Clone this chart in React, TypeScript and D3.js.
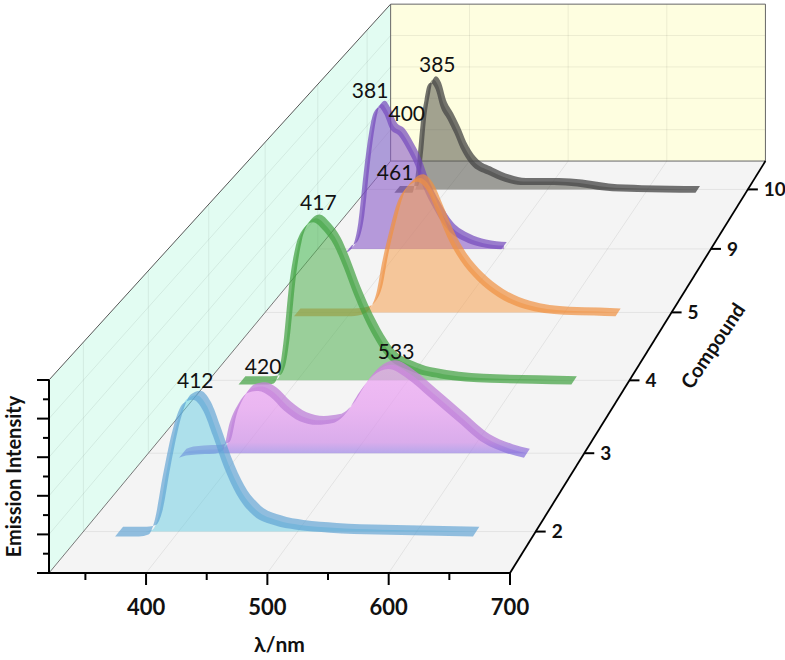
import React from "react";
import * as d3 from "d3";

// compounds along the depth axis, front to back
const compounds = ["2", "3", "4", "5", "9", "10"];

// emission spectra (wavelength in nm, normalised intensity)
const nm2 = [350, 370, 378, 383, 390, 399, 407, 415, 424, 432, 441, 452, 466, 483, 502, 530, 570, 610, 650];
const int2 = [0, 0, 0.01, 0.08, 0.32, 0.58, 0.7, 0.72, 0.66, 0.53, 0.37, 0.22, 0.11, 0.06, 0.035, 0.02, 0.01, 0.005, 0];

const nm3 = [350, 356, 365, 380, 388, 394, 402, 410, 419, 429, 441, 455, 470, 484, 496, 507, 519, 532, 548, 568, 592, 615, 635, 650];
const int3 = [0, 0.012, 0.018, 0.022, 0.04, 0.19, 0.3, 0.355, 0.365, 0.335, 0.26, 0.2, 0.18, 0.19, 0.25, 0.36, 0.45, 0.485, 0.435, 0.33, 0.2, 0.08, 0.025, 0];

const nm4 = [350, 372, 381, 386, 391, 395, 401, 407, 417, 427, 436, 445, 454, 463, 472, 484, 502, 532, 577, 615, 650];
const int4 = [0, 0, 0.005, 0.06, 0.27, 0.53, 0.77, 0.87, 0.92, 0.87, 0.79, 0.66, 0.51, 0.38, 0.27, 0.155, 0.085, 0.035, 0.01, 0.005, 0];

const nm5 = [350, 400, 413, 420, 427, 432, 439, 446, 456, 465, 474, 484, 493, 505, 521, 540, 565, 602, 630, 650];
const int5 = [0, 0, 0.01, 0.04, 0.14, 0.31, 0.5, 0.66, 0.76, 0.79, 0.74, 0.6, 0.465, 0.33, 0.21, 0.115, 0.045, 0.01, 0.005, 0];

const nm9 = [350, 355, 362, 367, 372, 377, 382, 387, 393, 401, 409, 417, 425, 435, 448, 464, 480, 500];
const int9 = [0, 0.02, 0.18, 0.47, 0.71, 0.85, 0.88, 0.84, 0.75, 0.71, 0.63, 0.53, 0.39, 0.265, 0.14, 0.07, 0.035, 0.02];

const nm10 = [350, 368, 373, 376, 380, 383, 386, 391, 396, 403, 410, 416, 426, 443, 460, 476, 509, 532, 559, 592, 620, 650];
const int10 = [0, 0, 0.21, 0.42, 0.58, 0.67, 0.69, 0.65, 0.54, 0.46, 0.37, 0.28, 0.18, 0.115, 0.07, 0.05, 0.05, 0.04, 0.015, 0.005, 0.002, 0];

// peak annotations: text, compound, wavelength/intensity where the label sits
const peakText = ["412", "420", "533", "417", "461", "381", "400", "385"];
const peakCompound = ["2", "3", "3", "4", "5", "9", "9", "10"];
const peakNm = [414, 420, 536, 419, 441.5, 370.5, 406, 390];
const peakLevel = [0.8, 0.478, 0.56, 1.008, 0.82, 0.965, 0.82, 0.787];

const xTicks = [400, 500, 600, 700];
const xMinor = [350, 450, 550, 650];
const yTicks = [0, 0.2, 0.4, 0.6, 0.8, 1];
const yMinor = [0.1, 0.3, 0.5, 0.7, 0.9];

const series = [
  { compound: "10", nm: nm10, level: int10, fill: "#55554c", fillOp: 0.55, edge: "#444", edgeOp: 0.75 },
  { compound: "9", nm: nm9, level: int9, fill: "#8a5cc8", fillOp: 0.6, edge: "#7448bc", edgeOp: 0.7 },
  { compound: "5", nm: nm5, level: int5, fill: "#f5a050", fillOp: 0.55, edge: "#f09040", edgeOp: 0.7 },
  { compound: "4", nm: nm4, level: int4, fill: "#50b050", fillOp: 0.55, edge: "#3fa03f", edgeOp: 0.7 },
  { compound: "3", nm: nm3, level: int3, fill: "url(#pinkFill)", fillOp: 0.7, edge: "url(#pinkEdge)", edgeOp: 0.75 },
  { compound: "2", nm: nm2, level: int2, fill: "#66cce2", fillOp: 0.5, edge: "#5a9fd2", edgeOp: 0.65 },
];

const x = d3.scaleLinear().domain([320, 700]).range([49, 510]);
const y = d3.scaleLinear().domain([0, 1]).range([573, 380]);
const z = d3.scalePoint<string>().domain(compounds).range([0, 1]).padding(0.5);

// perspective toward a vanishing point up and to the right
const vanish = [1876, -1630];
const shrink = 0.23;
const ribbon = 0.01;

function project(w: number, v: number, d: number): [number, number] {
  const s = 1 / (1 + shrink * d);
  return [vanish[0] + (x(w) - vanish[0]) * s, vanish[1] + (y(v) - vanish[1]) * s];
}

const seg = (a: [number, number], b: [number, number]) => `M${a[0]},${a[1]}L${b[0]},${b[1]}`;
const poly = (pts: [number, number][]) => "M" + pts.map((p) => p.join(",")).join("L") + "Z";

const font = "Lato, 'Open Sans', sans-serif";

export default function App() {
  const [x0, x1] = x.domain();
  const grid: string[] = [];
  xTicks.slice(0, 3).forEach((w) => {
    grid.push(seg(project(w, 0, 0), project(w, 0, 1)));
    grid.push(seg(project(w, 0, 1), project(w, 1, 1)));
  });
  yTicks.slice(1, 5).forEach((v) => {
    grid.push(seg(project(x0, v, 0), project(x0, v, 1)));
    grid.push(seg(project(x0, v, 1), project(x1, v, 1)));
  });
  compounds.forEach((c) => {
    const d = z(c)!;
    grid.push(seg(project(x0, 0, d), project(x1, 0, d)));
    grid.push(seg(project(x0, 0, d), project(x0, 1, d)));
  });

  const pinkD = z("3")!;
  const pinkBase = project(500, 0, pinkD)[1];
  const pinkTop = project(500, 0.5, pinkD)[1];

  const zEdgeA = project(x1, 0, 0);
  const zEdgeB = project(x1, 0, 1);

  return (
    <svg width={785} height={660} style={{ position: "absolute", left: 0, top: 0, background: "#fff" }}>
      <defs>
        <linearGradient id="pinkFill" gradientUnits="userSpaceOnUse" x1={0} y1={pinkBase} x2={0} y2={pinkTop}>
          <stop offset="0" stopColor="#9c86e6" />
          <stop offset="0.12" stopColor="#cf8ee8" />
          <stop offset="0.5" stopColor="#e69cf0" />
          <stop offset="1" stopColor="#f0a6f6" />
        </linearGradient>
        <linearGradient id="pinkEdge" gradientUnits="userSpaceOnUse" x1={0} y1={pinkBase} x2={0} y2={pinkTop}>
          <stop offset="0" stopColor="#8a74dc" />
          <stop offset="0.15" stopColor="#b77ed8" />
          <stop offset="1" stopColor="#c882d8" />
        </linearGradient>
      </defs>

      {/* walls */}
      <path d={poly([project(x0, 0, 0), project(x1, 0, 0), project(x1, 0, 1), project(x0, 0, 1)])} fill="#f4f4f4" />
      <path d={poly([project(x0, 0, 0), project(x0, 1, 0), project(x0, 1, 1), project(x0, 0, 1)])} fill="#e2fcf2" />
      <path d={poly([project(x0, 0, 1), project(x1, 0, 1), project(x1, 1, 1), project(x0, 1, 1)])} fill="#fefee0" />
      <path d={grid.join("")} stroke="#000" strokeOpacity={0.07} strokeWidth={1} fill="none" />
      <path d={seg(project(x0, 0, 0), project(x0, 0, 1))} stroke="#777" strokeWidth={1} />
      <path d={seg(project(x0, 1, 0), project(x0, 1, 1))} stroke="#555" strokeWidth={1} />
      <path
        d={poly([project(x0, 0, 1), project(x1, 0, 1), project(x1, 1, 1), project(x0, 1, 1)])}
        fill="none"
        stroke="#666"
        strokeWidth={1}
      />

      {/* spectra, back to front */}
      {series.map((s) => {
        const d = z(s.compound)!;
        const pts = s.nm.map((w, i) => [w, s.level[i]] as [number, number]);
        const area = d3
          .area<[number, number]>()
          .x((p) => project(p[0], p[1], d)[0])
          .y0((p) => project(p[0], 0, d)[1])
          .y1((p) => project(p[0], p[1], d)[1])
          .curve(d3.curveMonotoneX);
        const band = d3
          .area<[number, number]>()
          .x0((p) => project(p[0], p[1], d - ribbon)[0])
          .y0((p) => project(p[0], p[1], d - ribbon)[1])
          .x1((p) => project(p[0], p[1], d + ribbon)[0])
          .y1((p) => project(p[0], p[1], d + ribbon)[1])
          .curve(d3.curveMonotoneX);
        return (
          <g key={s.compound}>
            <path d={area(pts) || ""} fill={s.fill} fillOpacity={s.fillOp} />
            <path d={band(pts) || ""} fill={s.edge} fillOpacity={s.edgeOp} />
          </g>
        );
      })}

      {/* front axes */}
      <g stroke="#000" strokeWidth={2}>
        <path d={seg(project(x0, 0, 0), project(x1, 0, 0))} />
        <path d={seg(project(x0, 0, 0), project(x0, 1, 0))} />
        {xTicks.map((w) => (
          <line key={w} x1={x(w)} x2={x(w)} y1={y(0)} y2={y(0) + 12} />
        ))}
        {xMinor.map((w) => (
          <line key={w} x1={x(w)} x2={x(w)} y1={y(0)} y2={y(0) + 7} />
        ))}
        {yTicks.map((v) => (
          <line key={v} x1={x(x0) - 12} x2={x(x0)} y1={y(v)} y2={y(v)} />
        ))}
        {yMinor.map((v) => (
          <line key={v} x1={x(x0) - 6} x2={x(x0)} y1={y(v)} y2={y(v)} />
        ))}
      </g>
      <path d={seg(zEdgeA, zEdgeB)} stroke="#000" strokeWidth={1.8} />
      {compounds.map((c) => {
        const p = project(x1, 0, z(c)!);
        return (
          <g key={c}>
            <line x1={p[0]} x2={p[0] + 10} y1={p[1]} y2={p[1]} stroke="#000" strokeWidth={2} />
            <text x={p[0] + 16} y={p[1]} dy="0.36em" fontFamily={font} fontWeight="bold" fontSize={19} fill="#111">
              {c}
            </text>
          </g>
        );
      })}

      {xTicks.map((w) => (
        <text key={w} x={x(w)} y={615} textAnchor="middle" fontFamily={font} fontWeight="bold" fontSize={22} fill="#111">
          {w}
        </text>
      ))}
      <text x={(x(x0) + x(x1)) / 2} y={652} textAnchor="middle" fontFamily={font} fontWeight="bold" fontSize={21} fill="#111">
        λ/nm
      </text>
      <text
        transform={`translate(21,${(y(0) + y(1)) / 2}) rotate(-90)`}
        textAnchor="middle"
        fontFamily={font}
        fontWeight="bold"
        fontSize={20}
        fill="#111"
      >
        Emission Intensity
      </text>
      <text
        transform={`translate(713,346) rotate(-56)`}
        textAnchor="middle"
        dy="0.35em"
        fontFamily={font}
        fontWeight="bold"
        fontSize={20}
        fill="#111"
      >
        Compound
      </text>

      {peakText.map((t, i) => {
        const p = project(peakNm[i], peakLevel[i], z(peakCompound[i])!);
        return (
          <text key={i} x={p[0]} y={p[1]} dy="0.36em" textAnchor="middle" fontFamily={font} fontSize={21} fill="#111">
            {t}
          </text>
        );
      })}
    </svg>
  );
}
